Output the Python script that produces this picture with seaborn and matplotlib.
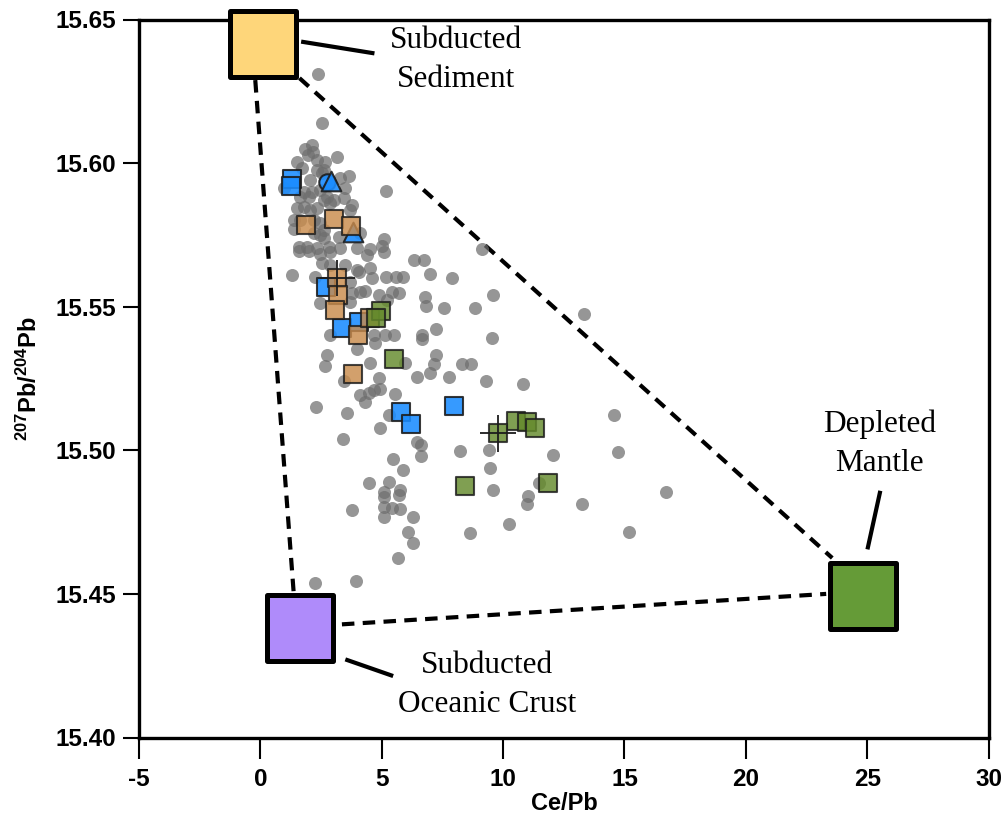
import numpy as np
import pandas as pd
import matplotlib
matplotlib.use("Agg")
import matplotlib.pyplot as plt
import seaborn as sns

# ---------------- data ----------------
# background (grey) samples: Ce/Pb and 207Pb/204Pb
grey_cepb = [2.38, 2.54, 2.13, 1.85, 2.18, 1.98, 1.51, 2.34, 2.68, 3.16, 1.72, 2.34, 2.61, 3.64, 3.29,
             2.06, 3.50, 5.17, 1.78, 2.13, 2.47, 2.75, 1.99, 1.65, 3.02, 2.61, 3.78, 1.51, 1.78, 2.06,
             2.34, 1.37, 1.65, 2.20, 2.47, 1.37, 2.20, 2.47, 2.61, 3.22, 4.12, 5.08, 5.01, 1.58, 1.92,
             2.34, 2.81, 3.29, 3.98, 4.53, 0.96, 3.43, 3.71, 2.61, 2.88, 2.54, 1.58, 1.99, 2.47, 2.88,
             4.39, 5.08, 6.34, 6.75, 2.54, 2.88, 3.98, 4.53, 4.60, 1.32, 2.27, 3.71, 5.19, 5.60, 5.89,
             7.00, 7.90, 4.30, 4.87, 5.42, 5.70, 2.47, 3.68, 3.78, 6.80, 6.84, 7.55, 4.12, 5.22, 3.50,
             4.05, 2.88, 4.70, 5.15, 5.49, 7.24, 6.66, 6.66, 3.98, 4.74, 2.75, 2.68, 4.53, 5.97, 7.25,
             7.17, 8.31, 8.67, 6.97, 6.45, 7.76, 3.43, 4.87, 4.12, 4.46, 4.67, 4.32, 4.94, 5.56, 2.31,
             3.57, 4.91, 5.28, 3.41, 6.45, 6.63, 9.13, 9.58, 8.86, 13.32, 9.54, 9.30, 10.84, 14.58, 8.24,
             9.43, 12.06, 14.73, 9.47, 11.46, 9.57, 11.03, 10.98, 13.26, 16.71, 10.23, 8.65, 15.17, 5.47,
             6.63, 5.88, 4.46, 5.28, 5.08, 5.11, 5.77, 5.70, 3.78, 5.11, 5.42, 5.74, 5.08, 6.27, 6.07,
             6.27, 5.68, 2.25, 3.95]
grey_pb = [15.6310, 15.6140, 15.6063, 15.6049, 15.6039, 15.6028, 15.6004, 15.6011, 15.6005, 15.6022,
           15.5982, 15.5976, 15.5976, 15.5955, 15.5947, 15.5941, 15.5912, 15.5903, 15.5900, 15.5900,
           15.5906, 15.5883, 15.5883, 15.5883, 15.5872, 15.5872, 15.5854, 15.5843, 15.5848, 15.5837,
           15.5843, 15.5802, 15.5802, 15.5802, 15.5790, 15.5771, 15.5756, 15.5750, 15.5738, 15.5744,
           15.5756, 15.5736, 15.5711, 15.5708, 15.5708, 15.5703, 15.5708, 15.5703, 15.5703, 15.5701,
           15.5912, 15.5877, 15.5837, 15.5767, 15.5860, 15.5964, 15.5694, 15.5694, 15.5683, 15.5690,
           15.5680, 15.5690, 15.5661, 15.5661, 15.5651, 15.5645, 15.5628, 15.5636, 15.5600, 15.5612,
           15.5604, 15.5586, 15.5604, 15.5603, 15.5602, 15.5613, 15.5601, 15.5556, 15.5539, 15.5552,
           15.5549, 15.5512, 15.5515, 15.5547, 15.5535, 15.5502, 15.5495, 15.5552, 15.5523, 15.5645,
           15.5622, 15.5401, 15.5401, 15.5401, 15.5401, 15.5422, 15.5401, 15.5386, 15.5351, 15.5373,
           15.5332, 15.5294, 15.5303, 15.5303, 15.5332, 15.5301, 15.5301, 15.5299, 15.5270, 15.5256,
           15.5254, 15.5243, 15.5251, 15.5193, 15.5198, 15.5210, 15.5169, 15.5212, 15.5196, 15.5152,
           15.5129, 15.5077, 15.5123, 15.5038, 15.5029, 15.5018, 15.5700, 15.5541, 15.5494, 15.5475,
           15.5390, 15.5242, 15.5231, 15.5123, 15.4998, 15.5001, 15.4984, 15.4993, 15.4937, 15.4887,
           15.4862, 15.4841, 15.4813, 15.4813, 15.4854, 15.4742, 15.4711, 15.4717, 15.4970, 15.4980,
           15.4931, 15.4885, 15.4889, 15.4856, 15.4838, 15.4862, 15.4844, 15.4792, 15.4802, 15.4800,
           15.4796, 15.4769, 15.4769, 15.4717, 15.4676, 15.4626, 15.4539, 15.4546]

# blue circle sample
blue_circ_cepb = [2.76]
blue_circ_pb = [15.5935]
# blue triangle samples
blue_tri_cepb = [2.92, 3.81]
blue_tri_pb = [15.5937, 15.5759]
# blue square samples
blue_sq_cepb = [1.30, 1.28, 2.72, 3.35, 4.05, 5.81, 6.21, 7.99]
blue_sq_pb = [15.5946, 15.5920, 15.5570, 15.5425, 15.5448, 15.5132, 15.5092, 15.5155]
# brown square samples
brown_sq_cepb = [1.87, 3.04, 3.75, 3.16, 3.18, 3.09, 4.02, 3.81, 4.53]
brown_sq_pb = [15.5784, 15.5806, 15.5780, 15.5599, 15.5541, 15.5489, 15.5401, 15.5265, 15.5460]
# green square samples
green_sq_cepb = [4.98, 4.78, 5.49, 10.54, 10.98, 11.33, 9.79, 8.44, 11.87]
green_sq_pb = [15.5485, 15.5460, 15.5319, 15.5103, 15.5100, 15.5077, 15.5059, 15.4877, 15.4885]
# error crosses
err_cepb = [3.16, 9.79]
err_pb = [15.5599, 15.5059]
err_x = [0.72, 0.74]
err_y = [0.0063, 0.0064]

# end-members
em_names = ["Subducted\nSediment", "Subducted\nOceanic Crust", "Depleted\nMantle"]
em_cepb = [0.11, 1.65, 24.83]
em_pb = [15.6416, 15.4382, 15.4494]
em_colors = ["#FED67A", "#AF8BFA", "#659B37"]
em_label_cepb = [8.06, 9.35, 25.51]
em_label_pb = [15.6359, 15.4183, 15.5023]
# leader lines (start, end) for each end-member label
lead_x = [[1.68, 4.70], [3.50, 5.47], [25.54, 25.01]]
lead_y = [[15.6423, 15.6382], [15.4272, 15.4214], [15.4859, 15.4655]]
# mixing (dashed) lines
mix_x = [[-0.21, 1.37], [1.61, 23.56], [3.36, 23.31]]
mix_y = [[15.6289, 15.4507], [15.6296, 15.4625], [15.4394, 15.4500]]

x_ticks = [-5, 0, 5, 10, 15, 20, 25, 30]
y_ticks = [15.40, 15.45, 15.50, 15.55, 15.60, 15.65]

# ---------------- plot ----------------
sns.set_theme(style="ticks")
plt.rcParams['font.family'] = ['Liberation Sans', 'DejaVu Sans']
plt.rcParams['axes.unicode_minus'] = False
plt.rcParams['mathtext.default'] = 'regular'
plt.rcParams['text.color'] = 'black'
plt.rcParams['axes.labelcolor'] = 'black'
plt.rcParams['xtick.color'] = 'black'
plt.rcParams['ytick.color'] = 'black'
plt.rcParams['xtick.labelcolor'] = 'black'
plt.rcParams['ytick.labelcolor'] = 'black'

fig = plt.figure(figsize=(10.07, 8.24), dpi=100)
ax = fig.add_axes([139 / 1007, 1 - 737.5 / 824, (989.3 - 139) / 1007, (737.5 - 19.5) / 824])

# mixing lines
for xs, ys in zip(mix_x, mix_y):
    sns.lineplot(x=xs, y=ys, ax=ax, color="black", lw=3.0, linestyle=(0, (3, 2)),
                 zorder=1, sort=False, estimator=None)
# leader lines
for xs, ys in zip(lead_x, lead_y):
    sns.lineplot(x=xs, y=ys, ax=ax, color="black", lw=3.0, zorder=1, sort=False,
                 estimator=None, solid_capstyle="butt")

# grey background samples
sns.scatterplot(x=grey_cepb, y=grey_pb, ax=ax, color="#6e6e6e", s=88, alpha=0.72,
                linewidth=0, zorder=2, legend=False)

edge = "#1c1c1c"
sns.scatterplot(x=blue_circ_cepb, y=blue_circ_pb, ax=ax, color="#1a8cff", marker="o", s=140,
                edgecolor=edge, linewidth=1.5, alpha=0.9, zorder=3, legend=False)
sns.scatterplot(x=blue_tri_cepb, y=blue_tri_pb, ax=ax, color="#1a8cff", marker="^", s=200,
                edgecolor=edge, linewidth=1.5, alpha=0.9, zorder=3, legend=False)
sns.scatterplot(x=blue_sq_cepb, y=blue_sq_pb, ax=ax, color="#1a8cff", marker="s", s=150,
                edgecolor=edge, linewidth=1.5, alpha=0.88, zorder=3, legend=False)
sns.scatterplot(x=brown_sq_cepb, y=brown_sq_pb, ax=ax, color="#c88b4c", marker="s", s=150,
                edgecolor=edge, linewidth=1.5, alpha=0.82, zorder=3, legend=False)
sns.scatterplot(x=green_sq_cepb, y=green_sq_pb, ax=ax, color="#648a2c", marker="s", s=150,
                edgecolor=edge, linewidth=1.5, alpha=0.82, zorder=3, legend=False)

ax.errorbar(err_cepb, err_pb, xerr=err_x, yerr=err_y, fmt="none", ecolor="#1c1c1c",
            elinewidth=1.3, capsize=0, zorder=4)

# end-member boxes
for cx, cy, col in zip(em_cepb, em_pb, em_colors):
    sns.scatterplot(x=[cx], y=[cy], ax=ax, color=col, marker="s", s=47.5 ** 2,
                    edgecolor="black", linewidth=3.6, alpha=1, zorder=6, legend=False,
                    clip_on=False)

for name, lx, ly in zip(em_names, em_label_cepb, em_label_pb):
    ax.text(lx, ly, name, ha="center", va="center", fontsize=22.5, color="black",
            family=["Liberation Serif", "DejaVu Serif"], linespacing=1.42, zorder=7)

ax.set_xlim(-5, 30.03)
ax.set_ylim(15.40, 15.65)
ax.set_xticks(x_ticks)
ax.set_xticklabels([str(t) for t in x_ticks])
ax.set_yticks(y_ticks)
ax.set_yticklabels([f"{t:.2f}" for t in y_ticks])

for sp in ax.spines.values():
    sp.set_linewidth(2.4)
    sp.set_color("black")
    sp.set_zorder(5)
ax.tick_params(axis="x", length=15, width=1.5, pad=7, labelsize=17.5, color="black",
               labelcolor="black")
ax.tick_params(axis="y", length=11.5, width=1.5, pad=5, labelsize=17.5, color="black",
               labelcolor="black")
for lab in ax.get_xticklabels() + ax.get_yticklabels():
    lab.set_fontweight("bold")

ax.set_xlabel("Ce/Pb", fontsize=17, fontweight="bold", labelpad=1, color="black")
ax.set_ylabel(r"$^{207}$Pb/$^{204}$Pb", fontsize=17, fontweight="bold", labelpad=10,
              color="black")

fig.savefig("out.png", dpi=100)
